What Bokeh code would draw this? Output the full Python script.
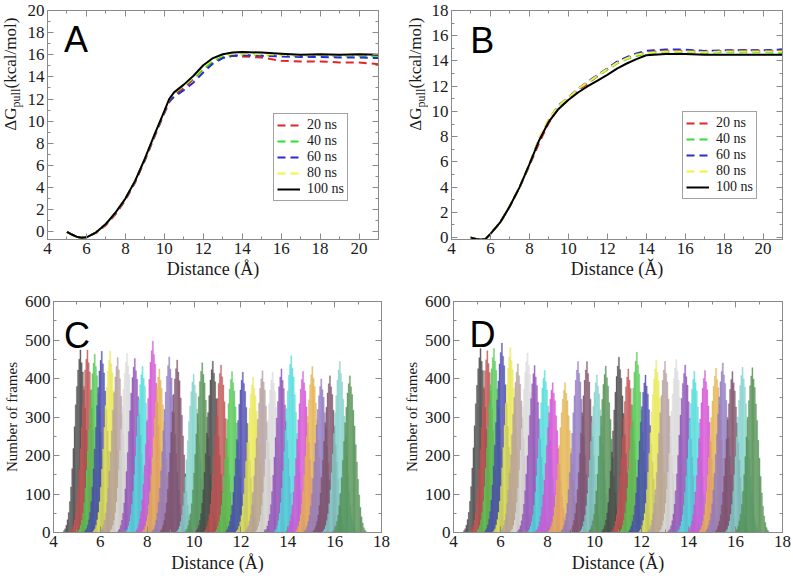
import math
from bokeh.plotting import figure
from bokeh.layouts import column, row
from bokeh.models import (Label, LinearAxis, SingleIntervalTicker, Legend, LegendItem,
                          ColumnDataSource, Range1d)
from bokeh.embed import file_html
from bokeh.resources import INLINE

# ---------------- data ----------------
dist = [5.0, 5.25, 5.5, 5.75, 6.0, 6.5, 7.0, 7.5, 8.0, 8.5, 9.0, 9.5, 10.0, 10.25, 10.5,
        11.0, 11.5, 12.0, 12.5, 13.0, 13.5, 14.0, 15.0, 16.0, 17.0, 18.0, 19.0, 20.0, 21.0]

series_labels = ["20 ns", "40 ns", "60 ns", "80 ns", "100 ns"]

a_20 = [0.0, -0.25, -0.45, -0.55, -0.5, -0.1, 0.6, 1.6, 2.85, 4.45, 6.45, 8.6, 10.7, 11.7, 12.3,
        13.0, 13.8, 14.7, 15.35, 15.75, 15.9, 15.85, 15.75, 15.45, 15.4, 15.4, 15.3, 15.3, 15.15]
a_40 = [0.0, -0.25, -0.45, -0.55, -0.5, -0.05, 0.7, 1.7, 3.0, 4.6, 6.55, 8.75, 10.85, 11.9, 12.5,
        13.2, 13.9, 14.7, 15.4, 15.85, 16.0, 16.0, 15.95, 15.95, 15.9, 15.95, 15.9, 15.9, 15.85]
a_60 = [0.0, -0.25, -0.45, -0.55, -0.5, -0.05, 0.7, 1.7, 2.95, 4.55, 6.5, 8.7, 10.8, 11.8, 12.2,
        12.8, 13.5, 14.4, 15.2, 15.7, 15.9, 15.95, 15.9, 15.85, 15.8, 15.8, 15.75, 15.75, 15.7]
a_80 = [0.0, -0.25, -0.45, -0.55, -0.5, -0.05, 0.7, 1.75, 3.0, 4.6, 6.6, 8.8, 10.9, 12.0, 12.55,
        13.25, 14.0, 14.9, 15.6, 16.0, 16.1, 16.1, 16.05, 16.0, 15.95, 16.0, 15.95, 16.0, 15.95]
a_100 = [0.0, -0.25, -0.45, -0.55, -0.5, -0.05, 0.7, 1.75, 3.0, 4.6, 6.6, 8.8, 10.9, 12.0, 12.6,
         13.3, 14.1, 15.05, 15.7, 16.05, 16.2, 16.25, 16.2, 16.1, 16.0, 16.05, 16.0, 16.05, 16.0]

b_20 = [0.0, -0.1, -0.15, -0.1, 0.3, 1.2, 2.5, 4.0, 5.7, 7.5, 9.1, 10.3, 11.0, 11.35, 11.7,
        12.2, 12.8, 13.35, 13.9, 14.2, 14.5, 14.7, 14.8, 14.8, 14.75, 14.8, 14.85, 14.8, 14.8]
b_40 = [0.0, -0.1, -0.15, -0.1, 0.3, 1.2, 2.5, 4.0, 5.8, 7.8, 9.3, 10.4, 11.1, 11.4, 11.8,
        12.3, 12.8, 13.3, 13.8, 14.15, 14.4, 14.6, 14.7, 14.7, 14.65, 14.7, 14.7, 14.7, 14.65]
b_60 = [0.0, -0.1, -0.15, -0.1, 0.3, 1.2, 2.5, 4.0, 5.8, 7.8, 9.35, 10.5, 11.1, 11.45, 11.8,
        12.35, 12.9, 13.4, 13.95, 14.3, 14.6, 14.8, 14.9, 14.9, 14.8, 14.85, 14.85, 14.85, 14.9]
b_80 = [0.0, -0.1, -0.15, -0.1, 0.3, 1.2, 2.5, 4.0, 5.8, 7.85, 9.4, 10.45, 11.1, 11.4, 11.8,
        12.3, 12.85, 13.35, 13.85, 14.2, 14.5, 14.65, 14.75, 14.75, 14.7, 14.75, 14.75, 14.75, 14.75]
b_100 = [0.0, -0.1, -0.15, -0.1, 0.3, 1.2, 2.5, 4.0, 5.8, 7.7, 9.2, 10.2, 10.9, 11.2, 11.5,
         12.0, 12.45, 12.9, 13.4, 13.8, 14.15, 14.45, 14.55, 14.55, 14.5, 14.5, 14.5, 14.5, 14.5]

# umbrella windows (peak position, peak height)
c_centers = [5.15, 5.45, 5.76, 6.06, 6.42, 6.74, 7.14, 7.47, 7.8, 8.24, 8.52, 8.94, 9.28, 9.98, 10.35,
             10.8, 11.15, 11.62, 12.08, 12.52, 12.92, 13.35, 13.73, 14.15, 14.65, 15.05, 15.43, 15.8, 16.22, 16.65]
c_peaks = [474, 474, 463, 471, 471, 454, 465, 452, 431, 497, 425, 456, 448, 411, 441,
           445, 435, 418, 416, 403, 420, 416, 425, 459, 418, 431, 399, 407, 444, 407]
d_centers = [5.15, 5.44, 5.72, 6.06, 6.42, 6.74, 7.15, 7.45, 7.88, 8.22, 8.75, 9.3, 9.68, 10.1, 10.48,
             11.04, 11.44, 11.8, 12.17, 12.63, 13.0, 13.48, 13.86, 14.25, 14.7, 15.17, 15.46, 15.87, 16.3, 16.72]
d_peaks = [478, 472, 478, 492, 480, 438, 466, 434, 421, 389, 389, 444, 444, 409, 432,
           455, 425, 468, 409, 447, 444, 449, 435, 418, 421, 427, 440, 418, 429, 428]
# relative histogram shape of one window (bins of 0.05 A), read from the last window
hist_profile = [0.01, 0.02, 0.04, 0.07, 0.11, 0.17, 0.25, 0.35, 0.46, 0.58, 0.7, 0.8, 0.89, 0.95, 1.0,
                0.93, 0.88, 0.78, 0.68, 0.56, 0.45, 0.34, 0.24, 0.16, 0.1, 0.06, 0.03, 0.015, 0.005]
bin_w = 0.05
# window fill colours (as they appear, translucent) and their outline colours
win_fill = ["#5a5a5a", "#d26464", "#64dc64", "#5a5ac0", "#f8f864", "#c8b4b4", "#ececec",
            "#a064c8", "#64f0f0", "#e664e6", "#f0c364", "#a08cd2", "#8c6478", "#96e1dc", "#64a064"]
win_line = ["#222222", "#a03030", "#30a030", "#28288c", "#c8c830", "#8c7070", "#b4b4b4",
            "#6e2896", "#28b4b4", "#b428b4", "#c89628", "#6e50a0", "#5a2846", "#5ab4aa", "#2e6e2e"]

line_colors = ["#e32626", "#2fe02f", "#2a2ad6", "#f2f23c", "#000000"]

SERIF = "Liberation Serif"
SANS = "Liberation Sans"
GRAY = "#8a8a8a"
TXT = "#1a1a1a"


def style(p, xint, yint, xlabel, label_standoff):
    p.outline_line_color = GRAY
    p.background_fill_color = "white"
    p.border_fill_color = "white"
    p.grid.visible = False
    for ax, iv in ((p.xaxis[0], xint), (p.yaxis[0], yint)):
        ax.ticker = SingleIntervalTicker(interval=iv, num_minor_ticks=2)
        ax.major_tick_in = 6
        ax.major_tick_out = 0
        ax.minor_tick_in = 3
        ax.minor_tick_out = 0
        ax.axis_line_color = GRAY
        ax.major_tick_line_color = GRAY
        ax.minor_tick_line_color = GRAY
        ax.major_label_text_font = SERIF
        ax.major_label_text_font_size = "17px"
        ax.major_label_text_color = TXT
        ax.major_label_standoff = 3
        ax.axis_label_text_font = SERIF
        ax.axis_label_text_font_style = "normal"
        ax.axis_label_text_color = TXT
    p.xaxis[0].axis_label = xlabel
    p.xaxis[0].axis_label_text_font_size = "18px"
    p.xaxis[0].axis_label_standoff = label_standoff
    for loc, iv in (("above", xint), ("right", yint)):
        ax = LinearAxis(ticker=SingleIntervalTicker(interval=iv, num_minor_ticks=2),
                        major_tick_in=6, major_tick_out=0, minor_tick_in=3, minor_tick_out=0,
                        axis_line_color=GRAY, major_tick_line_color=GRAY,
                        minor_tick_line_color=GRAY, major_label_text_color=None,
                        major_label_text_alpha=0, major_label_text_font_size="1px",
                        major_label_standoff=0)
        p.add_layout(ax, loc)


def letter(p, txt, x, y):
    p.add_layout(Label(x=x, y=y, text=txt, text_font=SANS, text_font_size="36px",
                       text_color="black", text_baseline="middle"))


def dg_label_fig(width, xm, yc):
    # "ΔG" + subscript "pull" + "(kcal/mol)", rotated, reading upwards
    f = figure(width=width, height=290, output_backend="svg", toolbar_location=None,
               x_axis_location=None, y_axis_location=None, min_border=0,
               min_border_left=0, min_border_right=0, min_border_top=0, min_border_bottom=0,
               x_range=Range1d(0, 1), y_range=Range1d(0, 1))
    f.outline_line_color = None
    f.grid.visible = False
    f.background_fill_color = "white"
    f.border_fill_color = "white"
    common = dict(x_units="screen", y_units="screen", angle=math.pi / 2,
                  text_font=SERIF, text_color=TXT, text_baseline="middle",
                  text_align="center")
    f.add_layout(Label(x=xm, y=yc - 44.6, text="ΔG", text_font_size="17px", **common))
    f.add_layout(Label(x=xm + 5.5, y=yc - 23.6, text="pull", text_font_size="12px", **common))
    f.add_layout(Label(x=xm, y=yc + 21.4, text="(kcal/mol)", text_font_size="17px", **common))
    return f


def energy_panel(series, yrange, xlabel, width, borders, leg_loc, let, let_pos):
    p = figure(width=width, height=290, output_backend="svg", toolbar_location=None,
               x_range=Range1d(4, 21), y_range=Range1d(*yrange),
               min_border_left=borders[0], min_border_right=borders[1],
               min_border_top=10, min_border_bottom=51)
    style(p, 2, 2, xlabel, 2)
    items = []
    for i, (ys, lab) in enumerate(zip(series, series_labels)):
        if i < 4:
            r = p.line(dist, ys, line_color=line_colors[i], line_width=2, line_dash="8 5")
        else:
            r = p.line(dist, ys, line_color=line_colors[i], line_width=2)
        items.append(LegendItem(label=lab, renderers=[r]))
    leg = Legend(items=items, location=leg_loc, label_text_font=SERIF,
                 label_text_font_size="14px", label_text_color=TXT,
                 label_text_line_height=1.0,
                 glyph_width=23, glyph_height=14, label_height=14, label_standoff=7,
                 spacing=0, padding=3, margin=0, border_line_color="#444444",
                 border_line_width=1, background_fill_alpha=1.0)
    p.add_layout(leg)
    letter(p, let, *let_pos)
    return p


def hist_panel(centers, peaks, xlabel, width, borders, vborders, let, let_pos):
    p = figure(width=width, height=286, output_backend="svg", toolbar_location=None,
               x_range=Range1d(4, 18), y_range=Range1d(0, 600),
               min_border_left=borders[0], min_border_right=borders[1],
               min_border_top=vborders[0], min_border_bottom=vborders[1])
    style(p, 2, 100, xlabel, 3)
    p.yaxis[0].axis_label = "Number of frames"
    p.yaxis[0].axis_label_text_font_size = "15px"
    p.yaxis[0].axis_label_standoff = 2
    left, right, top, fc, lc = [], [], [], [], []
    half = (len(hist_profile) - 1) / 2 + 0.5
    for i, (c, h) in enumerate(zip(centers, peaks)):
        for k, f in enumerate(hist_profile):
            l0 = c + (k - half) * bin_w
            left.append(l0)
            right.append(l0 + bin_w)
            top.append(h * f)
            fc.append(win_fill[i % len(win_fill)])
            lc.append(win_line[i % len(win_line)])
    src = ColumnDataSource(dict(left=left, right=right, top=top,
                                bottom=[0] * len(top), fc=fc, lc=lc))
    p.quad(left="left", right="right", top="top", bottom="bottom", source=src,
           fill_color="fc", fill_alpha=0.85, line_color="lc", line_alpha=0.35,
           line_width=0.6)
    letter(p, let, *let_pos)
    return p


labA = dg_label_fig(24, 10, 165)
pA = energy_panel([a_20, a_40, a_60, a_80, a_100], (-0.7, 20), "Distance (Å)", 376, (21, 22),
                  (226, 38), "A", (4.85, 17.38))
labB = dg_label_fig(28, 15, 165)
pB = energy_panel([b_20, b_40, b_60, b_80, b_100], (-0.15, 18), "Distance (Ǎ)", 365, (20, 11),
                  (231, 40), "B", (4.96, 15.66))
pC = hist_panel(c_centers, c_peaks, "Distance (Å)", 400, (48, 19), (10, 44), "C", (4.45, 512))
pD = hist_panel(d_centers, d_peaks, "Distance (Ǎ)", 393, (50, 11), (11, 43), "D", (4.68, 515))

layout = column(row(labA, pA, labB, pB), row(pC, pD))
open("out.html", "w").write(file_html(layout, INLINE))
